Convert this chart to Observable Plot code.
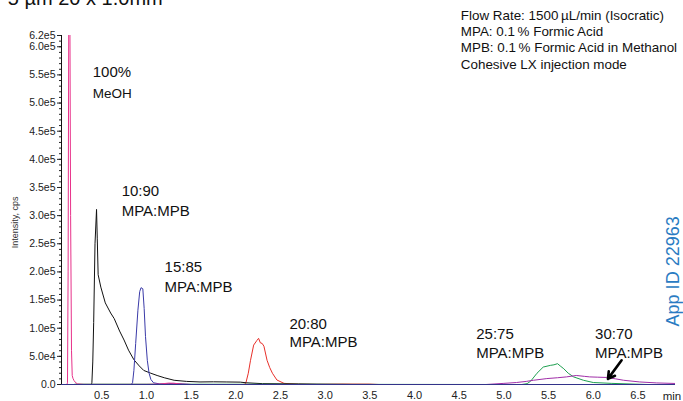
<!DOCTYPE html>
<html>
<head>
<meta charset="utf-8">
<script src="https://cdn.jsdelivr.net/npm/d3@7"></script>
<script src="https://cdn.jsdelivr.net/npm/@observablehq/plot@0.6"></script>
<style>
  html, body { margin: 0; padding: 0; background: #fff; }
  #chart { position: relative; width: 683px; height: 401px; overflow: hidden; }
  svg { font-family: "Liberation Sans", Arial, sans-serif; }
</style>
</head>
<body>
<div id="chart"></div>
<script>
// ---- Data (time in min, intensity in cps) ----
const meohT = [0.05, 0.11, 0.117, 0.124, 0.132, 0.143, 0.152, 0.162, 0.17, 0.178, 0.19, 0.21, 0.23, 0.3, 0.6, 1.0, 1.15, 1.25, 1.32, 1.4, 1.5];
const meohV = [0, 0, 3e3, 2e5, 7e5, 7e5, 3e5, 6e4, 1.6e4, 1.1e4, 7e3, 3e3, 1e3, 300, 200, 300, 800, 2500, 2000, 600, 0];

const b1090T = [0.3, 0.385, 0.39, 0.40, 0.41, 0.425, 0.442, 0.45, 0.46, 0.49, 0.54, 0.6, 0.64, 0.7, 0.75, 0.8, 0.86, 0.92, 0.97, 1.05, 1.12, 1.2, 1.31, 1.45, 1.6, 1.75, 1.9, 2.05, 2.12, 2.3, 2.7, 3.0, 3.3];
const b1090V = [0, 0, 3e3, 4e4, 1.1e5, 2.5e5, 3.11e5, 2.6e5, 1.95e5, 1.73e5, 1.45e5, 1.27e5, 1.17e5, 9.5e4, 7.9e4, 6.1e4, 4.4e4, 3.3e4, 2.5e4, 2e4, 1.6e4, 1.2e4, 7.5e3, 5.5e3, 4.5e3, 4.8e3, 4.5e3, 4.2e3, 3e3, 1.5e3, 1e3, 500, 0];

const b1585T = [0.7, 0.83, 0.845, 0.86, 0.88, 0.905, 0.925, 0.94, 0.96, 0.975, 0.99, 1.01, 1.03, 1.05, 1.08, 1.15, 1.25, 1.3, 1.4, 1.5];
const b1585V = [0, 0, 3e3, 2.5e4, 7.3e4, 1.32e5, 1.65e5, 1.72e5, 1.7e5, 1.35e5, 8.5e4, 4.3e4, 2e4, 9e3, 3e3, 1e3, 1.5e3, 2e3, 1e3, 0];

const b2080T = [1.9, 2.08, 2.11, 2.14, 2.165, 2.2, 2.235, 2.255, 2.275, 2.295, 2.315, 2.35, 2.38, 2.41, 2.46, 2.54, 2.7, 2.9, 3.2, 3.5, 3.6];
const b2080V = [0, 0, 1e3, 2e4, 4.3e4, 7e4, 7.8e4, 8.2e4, 7.4e4, 7.3e4, 6.8e4, 4.3e4, 3e4, 2e4, 8e3, 2e3, 600, 200, 800, 700, 0];

const b2575T = [0.2, 0.7, 5.0, 5.2, 5.26, 5.3, 5.37, 5.44, 5.52, 5.56, 5.6, 5.63, 5.67, 5.72, 5.78, 5.89, 6.0, 6.2, 6.4, 6.6];
const b2575V = [600, 600, 0, 0, 1.5e3, 6e3, 2e4, 3.1e4, 3.4e4, 3.5e4, 3.7e4, 3.3e4, 2.8e4, 2e4, 1.35e4, 7.5e3, 3.5e3, 2e3, 1e3, 0];

const b3070T = [4.6, 4.8, 4.9, 5.0, 5.14, 5.25, 5.33, 5.48, 5.6, 5.7, 5.81, 5.9, 5.96, 6.05, 6.15, 6.25, 6.34, 6.52, 6.71, 6.92];
const b3070V = [0, 0, 1e3, 2e3, 3.5e3, 5.5e3, 7.5e3, 1.05e4, 1.2e4, 1.35e4, 1.6e4, 1.45e4, 1.35e4, 1.3e4, 1.25e4, 1e4, 7.5e3, 4.5e3, 2.8e3, 1.8e3];

// ---- Labels ----
const seriesNames  = ["100% MeOH", "10:90", "15:85", "20:80", "25:75", "30:70"];
const seriesColors = ["#e8318a", "#111111", "#3a3aa8", "#e8302a", "#1ea050", "#a02ea8"];

const peakLabelText = ["100%", "MeOH", "10:90", "MPA:MPB", "15:85", "MPA:MPB", "20:80", "MPA:MPB", "25:75", "MPA:MPB", "30:70", "MPA:MPB"];
const peakLabelX    = [0.399, 0.399, 0.723, 0.723, 1.203, 1.203, 2.60, 2.60, 4.69, 4.69, 6.02, 6.02];
const peakLabelY    = [5.55e5, 5.17e5, 3.43e5, 3.08e5, 2.08e5, 1.73e5, 1.07e5, 0.75e5, 0.89e5, 0.556e5, 0.89e5, 0.556e5];
const peakLabelSize = [15, 13.5, 15, 15, 15, 15, 15, 15, 15, 15, 15, 15];

const conditionsText = "Flow Rate: 1500\u2009µL/min (Isocratic)\nMPA: 0.1\u2009% Formic Acid\nMPB: 0.1\u2009% Formic Acid in Methanol\nCohesive LX injection mode";
const titleText = "5 µm 20 x 1.0mm";
const appIdText = "App ID 22963";
const yLabelText = "Intensity, cps";
const xUnitText = "min";

const xTicks = [0.5, 1.0, 1.5, 2.0, 2.5, 3.0, 3.5, 4.0, 4.5, 5.0, 5.5, 6.0, 6.5];
const yMajor = [0, 5e4, 1e5, 1.5e5, 2e5, 2.5e5, 3e5, 3.5e5, 4e5, 4.5e5, 5e5, 5.5e5, 6e5, 6.2e5];
const yMinor = d3.range(0, 6.2e5 + 1, 1e4);

const xDomain = [0.05, 6.92];
const yDomain = [0, 6.2e5];

// arrow (30:70 pointer) in data units
const arrowFrom = {x: 6.317, y: 4.3e4};
const arrowTo   = {x: 6.164, y: 1.0e4};

// ---- Build table ----
const seriesT = [meohT, b1090T, b1585T, b2080T, b2575T, b3070T];
const seriesV = [meohV, b1090V, b1585V, b2080V, b2575V, b3070V];
const drawOrder = [3, 1, 4, 5, 2, 0];

const fmtY = v => {
  if (v === 0) return "0.0";
  const e = Math.floor(Math.log10(v) + 1e-9);
  return (v / Math.pow(10, e)).toFixed(1) + "e" + e;
};

const lineMarks = drawOrder.map(i => {
  const data = seriesT[i].map((t, k) => ({t, v: seriesV[i][k]}));
  return Plot.line(data, {x: "t", y: "v", stroke: seriesColors[i], strokeWidth: 1, clip: true});
});

const peakLabels = peakLabelText.map((s, i) => ({s, x: peakLabelX[i], y: peakLabelY[i], fs: peakLabelSize[i]}));

const chart = Plot.plot({
  width: 683,
  height: 401,
  marginLeft: 61,
  marginRight: 8,
  marginTop: 35,
  marginBottom: 17,
  x: {domain: xDomain},
  y: {domain: yDomain},
  style: {fontFamily: "'Liberation Sans', Arial, sans-serif", background: "white", overflow: "visible"},
  marks: [
    Plot.axisY({ticks: yMinor, tickSize: 2, text: null, stroke: "#222"}),
    Plot.axisY({ticks: yMajor, tickSize: 4, tickPadding: 2, tickFormat: fmtY, fontSize: 10.5, label: null, stroke: "#222", fill: "#222", style: "letter-spacing:-0.4px"}),
    Plot.axisX({ticks: xTicks, tickSize: 0, tickPadding: 7, tickFormat: d3.format(".1f"), fontSize: 11, label: null, fill: "#222", style: "letter-spacing:-0.3px"}),
    Plot.ruleY([0], {stroke: "#33338a", strokeWidth: 1.2}),
    ...lineMarks,
    Plot.ruleX([xDomain[0]], {y1: yDomain[0], y2: yDomain[1], stroke: "#111", strokeWidth: 1}),
    Plot.text(peakLabels, {x: "x", y: "y", text: "s", fontSize: d => d.fs, textAnchor: "start", fill: "#111"}),
    Plot.text([conditionsText], {x: 4.518, y: 6.133e5, text: d => d, textAnchor: "start", lineAnchor: "middle", fontSize: 13.4, lineHeight: 1.2, fill: "#111"}),
    Plot.text([appIdText], {x: 6.90, y: 2.01e5, text: d => d, rotate: -90, fontSize: 18, fill: "#2a7bc2"}),
    Plot.text([yLabelText], {x: -0.473, y: 2.88e5, text: d => d, rotate: -90, fontSize: 9, fill: "#333"}),
    Plot.text([xUnitText], {x: 6.88, y: -0.21e5, text: d => d, fontSize: 11.5, fill: "#222"}),
    Plot.text([titleText], {x: 0.02, y: 6.75e5, text: d => d, textAnchor: "start", lineAnchor: "bottom", fontSize: 20, fill: "#111", dx: -51}),
    Plot.arrow([0], {x1: () => arrowFrom.x, y1: () => arrowFrom.y, x2: () => arrowTo.x, y2: () => arrowTo.y, stroke: "#000", strokeWidth: 2.6, headLength: 11})
  ]
});
document.getElementById("chart").appendChild(chart);
</script>
</body>
</html>
